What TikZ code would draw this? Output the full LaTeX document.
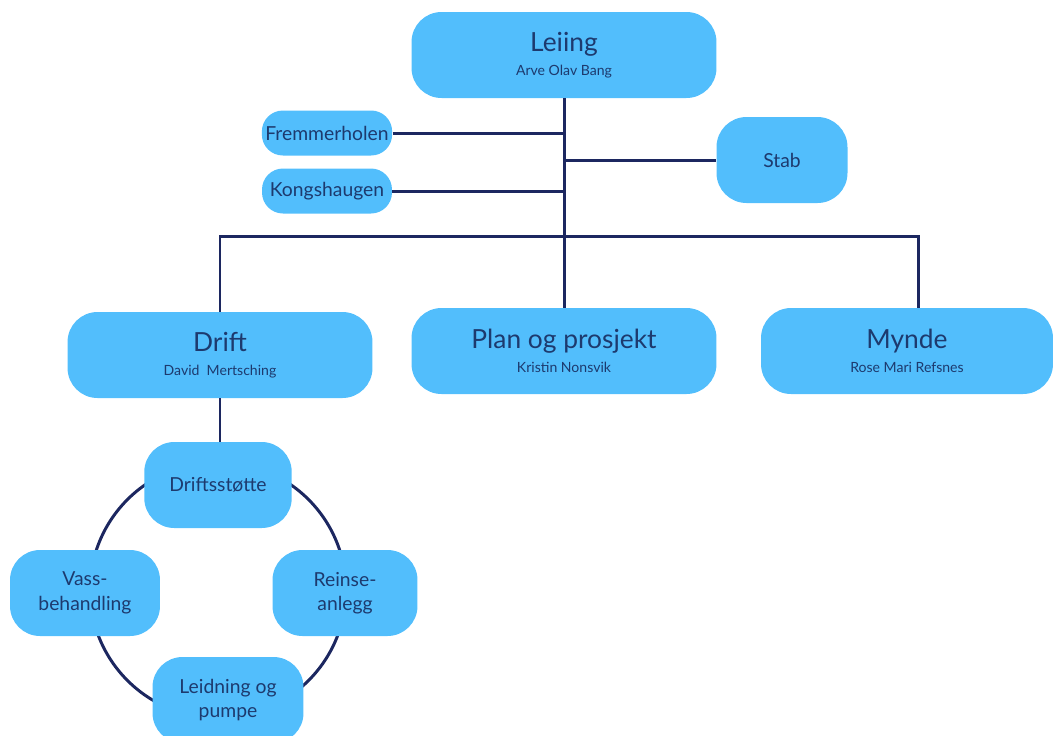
\documentclass[tikz,border=0pt]{standalone}
\usepackage{fontspec}
\setmainfont{Lato}
\usetikzlibrary{positioning}
\definecolor{boxblue}{HTML}{52BEFC}
\definecolor{linenavy}{HTML}{1C2760}
\definecolor{textnavy}{HTML}{1D3A6E}
\tikzset{
  unit/.style = {
    fill=boxblue, text=textnavy, align=center,
    rounded corners=0.6cm, inner sep=2pt,
    minimum width=6.1cm, minimum height=1.72cm
  },
  site/.style = {
    unit, rounded corners=0.42cm,
    minimum width=2.6cm, minimum height=0.9cm,
    font=\fontsize{11}{13}\selectfont
  },
  team/.style = {
    unit, minimum width=2.95cm,
    font=\fontsize{11}{14}\selectfont
  },
  link/.style = {draw=linenavy, line width=1.7pt}
}
\newcommand{\headtxt}{\fontsize{15}{17}\selectfont}
\newcommand{\nametxt}{\fontsize{8}{10}\selectfont}

\begin{document}
\begin{tikzpicture}[x=0.02cm,y=-0.02cm]
  \useasboundingbox (0,0) rectangle (1054,735);
  \clip (0,0) rectangle (1054,735);
  % ring behind the Drift teams
  \coordinate (ring) at (218,590);
  \draw[link] (ring) circle (128);
  % top level
  \node[unit] (leiing) at (564,55)
    {{\headtxt Leiing}\\[2pt]{\nametxt Arve Olav Bang}};
  \node[site] (fremmer) at (327,133) {Fremmerholen};
  \node[site] (kongs) at (327,191) {Kongshaugen};
  \node[unit, minimum width=2.62cm] (stab) at (782,160) {\fontsize{11}{13}\selectfont Stab};
  % departments
  \node[unit] (drift) at (220,355)
    {{\headtxt Drift}\\[2pt]{\nametxt David\ \ Mertsching}};
  \node[unit] (plan) at (564,351)
    {{\headtxt Plan og prosjekt}\\[2pt]{\nametxt Kristin Nonsvik}};
  \node[unit, minimum width=5.84cm] (mynde) at (907,351)
    {{\headtxt Mynde}\\[2pt]{\nametxt Rose Mari Refsnes}};
  % teams under Drift
  \node[team] (stotte) at (218,485) {Driftsstøtte};
  \node[team, minimum width=3cm] (vass) at (85,593) {Vass-\\behandling};
  \node[team, minimum width=2.9cm] (reinse) at (345,593) {Reinse-\\anlegg};
  \node[team, minimum width=3.02cm] (leidning) at (228,700) {Leidning og\\pumpe};
  % connectors
  \draw[link] (leiing.south) -- (plan.north);
  \draw[link] (fremmer.east) -- (fremmer.east -| leiing.south);
  \draw[link] (kongs.east) -- (kongs.east -| leiing.south);
  \draw[link] (stab.west) -- (stab.west -| leiing.south);
  \coordinate (busl) at (220,236);
  \coordinate (busr) at (918,236);
  \draw[link] (drift.north) -- (busl) -- (busr) -- (busr |- mynde.north);
  \draw[link] (drift.south) -- (drift.south |- stotte.north);
\end{tikzpicture}
\end{document}
